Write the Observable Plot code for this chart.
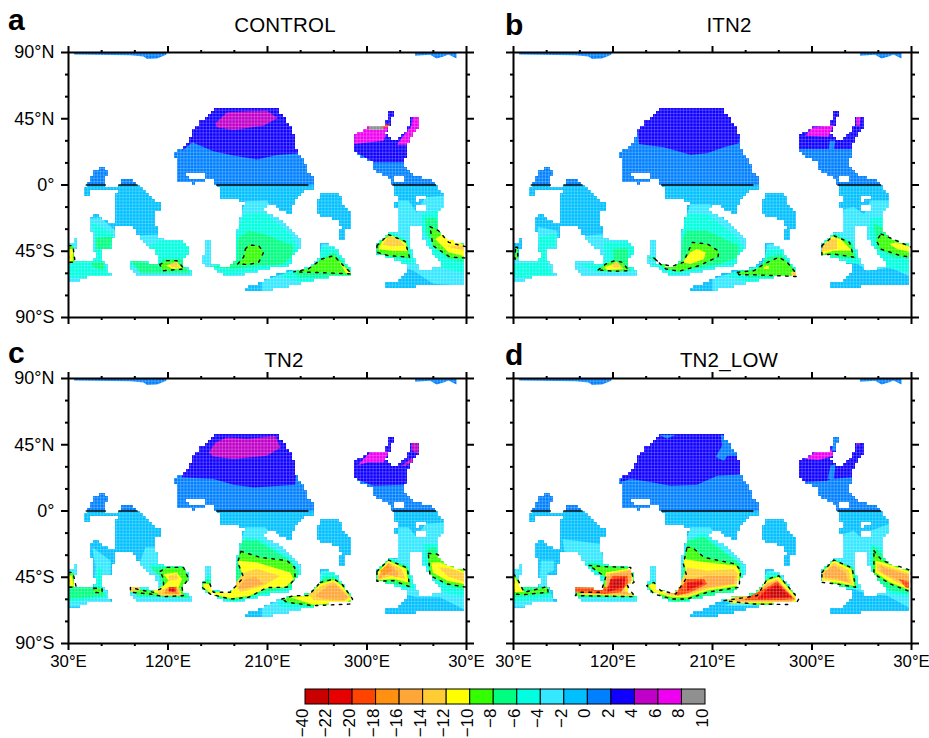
<!DOCTYPE html>
<html><head><meta charset="utf-8">
<script src="https://cdn.jsdelivr.net/npm/d3@7"></script>
<script src="https://cdn.jsdelivr.net/npm/@observablehq/plot@0.6"></script>
<style>
html,body{margin:0;padding:0;background:#fff}
#page{position:relative;width:929px;height:738px;overflow:hidden;font-family:"Liberation Sans",Arial,sans-serif;color:#000}
#page>svg,#page>div{position:absolute}
.title{font-size:20.5px;transform:translateX(-50%);white-space:nowrap;letter-spacing:.2px}
.tag{font-size:30px;font-weight:bold;line-height:30px}
</style></head><body><div id="page"></div>
<script>
// ---- colour classes ----
const thresholds=[-22,-20,-18,-16,-14,-12,-10,-8,-6,-4,-2,0,2,4,6,8];
const classColors=["#c80000","#e60000","#ff4400","#ff9010","#ffa638","#ffcc33","#ffff00","#33ff00","#00ff80","#00ffe0","#33e8ff","#00c0ff","#0080ff","#1000ff","#c000c8","#f000f0","#909090"];
const legendMid=[-23,-21,-19,-17,-15,-13,-11,-9,-7,-5,-3,-1,1,3,5,7,9];
const legendLabels=["−40","−22","−20","−18","−16","−14","−12","−10","−8","−6","−4","−2","0","2","4","6","8","10"];
// ---- axes ----
const lonMajor=[30,120,210,300,390];
const lonMinor=[60,90,150,180,240,270,330,360];
const latMajor=[90,45,0,-45,-90];
const latMinor=[75,60,30,15,-15,-30,-60,-75];
const latText={"90":"90°N","45":"45°N","0":"0°","-45":"45°S","-90":"90°S"};
// ---- ocean basins, flat lon,lat outlines (shared by all panels) ----
const basinPacific=[163,52.3,208,52,220,51.6,224.6,47,230.6,40,235,32.4,236,25.6,241,18.8,247,13,247,7.5,251,6.3,251,0,251.7,-3.8,241,-5.7,238,-9.5,233.6,-13.4,233,-19.7,227.6,-19.7,218.5,-15,209.5,-13.4,208,-18.6,218.5,-22,230.6,-28.8,240.5,-36.6,240.5,-43.5,233.6,-49,230,-54.8,206.5,-58,179.4,-62.7,172,-62,161,-57,151,-53.7,151,-49,154.7,-48,154.7,-37.8,160.7,-39,160,-47,158,-53.7,176.4,-56,181,-51.4,183,-40,183,-31,187,-19.7,190,-11.8,179.4,-10,169,-9.5,167,-2.7,164,0,161,4,155,4.5,154,2,143,.7,129,3,129,16.5,125,17.7,125,22,134,24.5,140,29,143,35.8,148,42.6,157,46];
const holePacific=[136,7.5,146,8.6,154,7.5,153,4.5,140,4];
const basinStrip=[190,-69.5,200.5,-67,209.5,-63.8,223,-59.3,233.6,-58.6,248.7,-56,259,-49,259,-41,266.7,-40.8,272.8,-43.5,281.8,-53.7,287,-59.3,286,-62,271,-62.7,257.7,-63.8,239.6,-67,227.6,-69.5,209.5,-72,191.4,-71.8];
const basinIsland=[259,-6,274,-5,277,-8.4,279,-14,287,-18.6,287,-28.8,279.7,-30,280,-37.4,273.4,-37.4,276.4,-28.8,274,-24,265,-22,255,-20.8,254.7,-11.8];
const basinAtlantic=[288,32.8,301.4,39.6,316.4,41,319.5,46,321,51,324,50.5,326.4,47.8,322.5,46,321.6,40.3,317.4,35.8,319.5,32.4,327,30,334.5,35.8,340.5,41.4,340.5,47,347.5,46,347.5,39.2,342,33.5,337.5,27.8,337.5,21,333,15.4,337.5,9.7,345,6.3,357,4,363,0,366,-3.8,369.7,-7.2,369.7,-15,364.6,-19.7,366,-31,373.6,-37.8,390,-41,390,-67,360,-67,334.5,-70.6,316.4,-69.5,316.4,-66,327,-65,337.5,-59.3,337.5,-56,324,-50,309,-48,309,-41,315,-35.5,319.5,-32.8,327,-32,327.6,-17.4,324,-15.6,327,-10.6,326.4,-3.8,323.4,0,321,5.2,306,9.7,304.4,15.4,292.3,20,288,25.6];
const holeAtl1=[345,-8.4,352.5,-7.2,353.5,-10.6,345,-11.3];
const holeAtl2=[345,-14.7,351.7,-14,353.5,-17.4,345.6,-17.4];
const holeAtl3=[339,-27,350.4,-27,351.7,-37.8,360,-46.9,369.7,-54.8,360,-57,347.5,-57,342,-46.9,338.4,-37.8];
const holeAtl4=[324,5,333.5,5.7,335,1.8,324,1];
const basinIndian=[46,0,50,4,54.4,9.7,60.4,13,64.3,12,64.3,9.7,68,9.7,67.3,6.3,63.4,5.2,64.3,0,65,-1,74,-2.7,75.5,0,80,4,86,4,93,0,101,-4.3,107,-10.6,114.6,-11.8,114.6,-16.3,110,-18.6,110,-27.6,112.5,-36.7,134,-37.8,140,-43.5,140,-48,133.6,-50.3,134,-54.8,143,-59.3,143,-61,90.5,-61,86,-57.7,86,-51,95,-51,110,-54.8,112.5,-53.7,108.6,-45.7,101,-41.2,93.5,-36.7,98,-33.3,93.5,-33.3,87.5,-27,81.5,-27,74,-29.2,71.5,-22,71.5,-8.4,74.6,-3.8,50,-3.4,49.3,-7.2,43,-7.2,43,-4.3,46,-.5];
const basinWest=[50,-22,54.4,-19.7,62,-23,71.5,-26.5,71.5,-33.3,69.5,-43.5,60.4,-43.5,60.4,-50.3,64.3,-53.7,68,-59.3,68,-62.7,47,-62.7,39.3,-66,30,-66,30,-41.2,35.4,-40,35.4,-35,39.3,-35,39.3,-40,35.4,-46.9,36.3,-52.5,53,-52.5,54.4,-48.7,53,-43.5,54,-37.8,50,-28.8];
const oceanRings=[basinPacific,holePacific,basinStrip,basinIsland,basinAtlantic,holeAtl1,holeAtl2,holeAtl3,holeAtl4,basinIndian,basinWest];
const arcticA=[35,90,35,88.6,86,88.2,98,87.3,101,85.6,110,86,118.5,88.5,118.5,90];
const arcticB=[343.5,90,343.5,87.8,357,88.4,363,86,370.6,87.6,373.6,88.6,381,86,381,90];
const equatorSegments=[[46,64.3],[75.5,93],[164,247.5],[323.4,363]];
// ---- shared latitude backdrop ----
const backdrop=[[-1,[30,-90,390,-90,390,0,30,0]],[1,[30,0,390,0,390,90,30,90]]];
// ---- contour bands by panel: [class value, flat lon,lat outline] ----
const bandsA=[
[3,[133,23.3,142,29,161,23,179,20,200.5,17.4,218.5,20.4,240,21.5,240,57,137,57]],
[3,[282,25.6,306,15.4,334.5,15.4,342,25.6,351,34.6,351,50.5,315,50.5,282,34.6]],
[5,[163,42,173.4,49.4,209.5,50.5,219,45.5,206.5,40.3,179.4,37.4,164,39.2]],
[7,[288.5,27.8,315,30,318,35.8,319.5,41,301.4,41,288.5,34.6]],
[7,[327,27.4,337.5,27.4,345,35.8,348.7,40.3,348.7,47,341.4,47,340.5,40.3,333,33.5]],
[9,[301.4,37.4,315,37.4,315,40,302,40]],
[-19,[313.5,41,320.5,41,320.5,39.2,313.5,39.2]],
[-3,[47,-23,59,-22,72.5,-31,72.5,-67,29,-67,29,-33]],
[-3,[89,-34.4,119,-33.3,149,-33.3,149,-62.7,83,-62.7,83,-49]],
[-3,[190,-11,209.5,-10.6,218.5,-20.8,230.6,-28.8,242.6,-35.5,242.6,-51.4,227.6,-58.2,173.4,-63.8,149,-56,149,-35.5,179.4,-33.3]],
[-3,[205,-74,205,-65,233.6,-58.2,257.7,-49,259,-40,270,-40,288,-56,288,-63.8,239.6,-69.5]],
[-3,[328.5,-10.6,337.5,-10.6,345,-18.6,352.6,-8.4,370.6,-7.2,370.6,-22,390,-37.8,390,-68.4,360,-67,342,-58.2,309,-49,309,-33.3,327,-32]],
[-5,[50.5,-25.4,71,-33.3,71,-44.6,62,-52.5,68,-62.7,30,-62.7,30,-51.4,53,-51.4,54.4,-33.3]],
[-5,[113,-37.8,139,-37.8,142,-49,134,-53.7,143,-59.3,110,-59.3,95,-58.2,86,-54.8,86,-51.4,110,-52.5,110,-47,102.6,-41.2]],
[-5,[188.4,-19.7,206.5,-18.6,230.6,-33.3,238,-42.3,233.6,-50.3,230,-54.8,173.4,-61.6,156.8,-54.8,176.4,-53.7,183,-31]],
[-5,[220,-61.6,233.6,-57.7,254.7,-53.7,259,-42.3,270,-42.3,288,-56,288,-63.8,239.6,-66]],
[-5,[309,-39,321,-31,337.5,-37.8,343.5,-53.7,321,-53.7,309,-49]],
[-5,[349.5,-19.7,369,-16.3,373.6,-33.3,390,-40,390,-60.4,366,-56,357,-43.5,349.5,-28.8]],
[-7,[54.4,-36,69.5,-35,68,-43.5,55.3,-43.5]],
[-7,[50.5,-52.5,62,-52.5,62.5,-58,53,-56]],
[-7,[86.6,-51,110,-54,116,-50.3,132.7,-50.3,135.7,-56,140,-60,95,-60]],
[-7,[193,-31,206.5,-33.3,233.6,-41.2,232,-48,224.6,-53.7,203.5,-54.8,179.4,-57,161,-55.5,182.4,-51.4,183,-36.7]],
[-7,[233.6,-59.3,248.7,-56,259,-50.3,270,-45.7,285,-58.2,286.3,-61.6,239.6,-62.7]],
[-7,[309,-40,319.5,-32.8,336,-38.3,339.6,-50.3,319.5,-48.7,309,-46.9]],
[-7,[352.6,-23,361.6,-22,367.6,-31,390,-41,390,-52.5,373.6,-50.3,363,-43.5,354,-33.3]],
[-9,[190,-43.5,193,-40.8,202,-41.2,206.5,-45.7,202,-52.5,193,-54,183,-53.7,188.4,-49]],
[-9,[259,-50.3,270,-48,277.3,-53.7,286.3,-60.4,257.7,-59.5,233.6,-59,247,-57]],
[-9,[309,-41.2,319.5,-33.7,334.5,-38.3,338.4,-49,319.5,-48,309,-45.7]],
[-9,[357,-28.3,364.6,-31,374,-39,390,-42,390,-49.6,375,-49,359.6,-41.2]],
[-9,[112.5,-54,119,-51.4,128,-51.4,135,-57,116,-58.2]],
[-9,[30,-41.2,34,-41.2,36,-52.5,30,-52.5]],
[-11,[310.4,-43.5,315,-36.7,322.5,-34.4,335.4,-39.6,336.6,-45,321,-44.6]],
[-11,[361.6,-36.7,369,-33.3,390,-41.7,390,-48.7,373.6,-45.7]],
[-11,[118,-54.8,128,-52.5,132.7,-56.6,125,-57]],
[-11,[274.3,-51.4,286.3,-60.4,281,-60]],
[-11,[30,-43.5,34,-43.5,34,-51.8,30,-52.5]],
[-13,[314.3,-40.5,319,-35,327,-36,334.5,-41.2,322.5,-41.7]],
[-13,[369.7,-41.2,390,-41.2,390,-45,378,-42.8]],
[-13,[120,-54,127.6,-52.5,130.6,-56,123.7,-55.5]]
];
const bandsB=[
[3,[143.5,27.8,166,25.6,190,20.6,205,21.5,220.4,25.6,234,28.3,238,57,139,57]],
[3,[285,24.4,337.8,24.4,350,39,350,50.5,285,50.5]],
[1,[316,30,321,30,319.7,23.3,315,23.3]],
[7,[294,33.5,300,39,319.7,41,315,32.8]],
[7,[340,47,344,47,343,40,340.5,40]],
[-3,[51.7,-28.3,69.8,-31,69.8,-67,27.6,-67,27.6,-49,53,-49]],
[-3,[94,-34.4,112,-33.3,142,-37.8,145,-62.7,85,-62.7,85,-50.3]],
[-3,[190,-13,208,-13,214,-19.7,232.4,-28.8,241.4,-36.7,241.4,-51.4,226.4,-58.2,173.7,-63.8,149.6,-56,149.6,-35.5,181,-33.3]],
[-3,[210,-74,210,-63.8,232.4,-58.6,256.5,-56,259.5,-40,271.6,-40,288,-56,288,-63.8,240,-69.5]],
[-3,[328.8,-16.3,337.8,-15,346.9,-19.7,353,-10.6,371,-10.6,371,-22,390,-37.8,390,-62.7,371,-56,350,-58.2,333,-49,309,-49,309,-33.3,325.8,-32]],
[-5,[53,-35.5,68,-33.3,68,-41.2,59,-43.5,60.7,-53.7,66.7,-62.7,30,-62.7,30,-53.7,53,-52.5]],
[-5,[112,-39,139,-37.8,140.5,-58.2,106,-59.3,88,-53.7,100,-53.7,113.4,-51.4]],
[-5,[185.7,-19.7,205,-19.7,232.4,-35.5,238.4,-42.3,234,-53.7,172,-61.6,154,-53.7,181,-51.4,182.7,-28.8]],
[-5,[222,-61.6,234,-57.7,255,-54.8,259.5,-43.5,271.6,-43.5,288,-58.2,288,-63.8,241.4,-66]],
[-5,[309,-39,319.7,-32.6,336.3,-37.8,344,-53.7,319.7,-52.5,309,-49]],
[-5,[353,-22,368,-22,372.5,-32,390,-39,390,-60.4,368,-56,356,-44.6,351.4,-31]],
[-7,[119.5,-43.5,133,-42.8,134.5,-53.7,135.4,-58.6,106,-58.6,113.4,-53.7,121,-50.3]],
[-7,[187,-31,205,-31,234,-41.2,232.4,-49,217,-53.7,178,-59.3,151,-49,181,-49,183.6,-35.5]],
[-7,[232.4,-58.6,250.5,-57,259.5,-49,271.6,-46.9,286.6,-59.3,286.6,-62.7,241.4,-62.7]],
[-7,[309,-40,321,-33.3,336.3,-40,340,-50.3,309,-48]],
[-7,[356,-26.5,363.4,-28.8,390,-41.2,390,-50.3,374,-49,359,-43.5]],
[-9,[106.5,-57.7,113.4,-53.7,121.6,-51.4,128.5,-52.5,134.5,-58.2,121,-58.6]],
[-9,[157,-49.6,167.6,-57,179.7,-58.6,197.8,-54.8,215,-48.7,215.8,-45,205.3,-40,191.7,-39,187.8,-45.7,183.6,-52.5,173.7,-55.2,163,-53.7]],
[-9,[232.4,-59.3,247.5,-58.2,256.5,-53.7,270,-49,277.6,-52.5,286,-60.4,286.6,-62.2,268.5,-61.6,247.5,-61,234,-61]],
[-9,[309,-41.2,319.7,-34.4,334,-39,337.8,-49,319.7,-46.9,309,-47.5]],
[-9,[362.5,-33.3,371,-36,390,-42.3,390,-49,380,-48,362,-43.5,358.3,-37.8]],
[-9,[32,-42.3,33.6,-42.3,34,-50.3,31,-50.3]],
[-11,[112,-56,121.6,-53.2,130,-57,115,-57.7]],
[-11,[182.7,-52.5,190,-45.7,196,-43.5,203.8,-45.7,202.3,-50.3,190,-53.7]],
[-11,[309,-41.2,318,-35,325.8,-36.7,336.3,-44.6,319.7,-44.6,309,-47]],
[-11,[370,-40,375.5,-39,390,-42.3,390,-45.7,377,-43.5]],
[-13,[280.6,-59.3,286.6,-58.6,286.6,-61.6,282,-62.2]],
[-11,[256.5,-55.5,261,-54.8,261,-57,256.5,-57]],
[-13,[118,-54.8,123.4,-52,128.5,-56,121,-56]],
[-13,[309,-42.3,315,-37.4,322.6,-36,322.6,-43.5,309,-45]]
];
const bandsC=[
[3,[132.7,22.9,161,21.7,179.4,17.9,197.5,16,235,17.9,240,60,137,60]],
[5,[157,39.8,163,46.6,173.4,50,191.4,49,217,51,221.6,43,209.5,37.6,179.4,35.3,161,37]],
[3,[282,24,306,17.2,334.5,17.9,342,25,351,34,351,52,315,52,282,34]],
[7,[291.6,31,303.6,40.5,320,40.5,315,33,300,33]],
[5,[331.5,30.8,340.5,36,342,33.7,334.5,30.8]],
[5,[340.5,47,346.6,47,346.6,39,340.5,41]],
[-3,[51.4,-24.7,68,-33.7,68,-44,60.4,-46.2,65,-54,69.5,-65,30,-65,30,-49.6,53,-51.8,54.4,-38]],
[-3,[30,-35,40.8,-35,40.8,-51.8,30,-51.8]],
[-3,[93.5,-37,99.6,-24.7,110,-24.7,111.6,-36,143,-36,144.8,-64.3,86,-64.3,84.5,-50.7]],
[-3,[190,-11,208,-11,218.5,-20,233.6,-29,241,-38,241,-52,230.6,-61,173.4,-64.3,149,-58.6,149,-36,179.4,-33.7]],
[-3,[205,-74.5,205,-65.4,223,-59.8,254.7,-47.3,259,-40.5,270,-40.5,288,-56.4,288,-65.4,239.6,-70]],
[-3,[328.5,-11,337.5,-11,345,-18,352.6,-8.8,370.6,-7.7,370.6,-22.4,390,-38,390,-67.7,366,-58.6,345,-58.6,333,-56.4,309,-49.6,309,-33.7,327,-32.6]],
[-5,[30,-53,53,-53,56,-38.3,60.4,-38.3,60.4,-51.8,65,-58.6,30,-62]],
[-5,[102.6,-36,137,-37,142,-49.6,138,-58.6,92,-58.6,88,-50.7,102.6,-53,113,-51.8,113,-45]],
[-5,[190,-17.9,203.5,-19,233.6,-33.7,241,-42.8,233.6,-54,179.4,-62,155,-57.5,152,-47.3,160,-40.5,161,-54,179.4,-54,183,-33.7]],
[-5,[221.5,-59.8,258,-46.2,260.7,-41.7,271,-41.7,288,-58.6,288,-64.3,233.6,-66.6,220,-64.3]],
[-5,[309,-39.4,321,-31.5,337.5,-37,343.5,-53,321,-53,309,-49.6]],
[-5,[351,-22.4,366,-22.4,373.6,-33.7,390,-40.5,390,-58.6,369,-55.2,357,-44,351,-33.7]],
[-7,[31,-51.8,59,-51.8,63.4,-57.5,31,-59.8]],
[-7,[104,-38.3,134,-37.8,139.6,-47.3,135.7,-56.4,140,-59.3,92,-57.5,86,-53,107,-54,114.6,-51.8,113,-45]],
[-7,[187,-20,200.5,-20,230.6,-33.7,238,-41.7,233.6,-51.8,209.5,-55,179.4,-61,161,-57.5,155,-54,150.8,-49.6,155,-46.2,160,-47.3,161,-55,179.4,-54,183,-31.5]],
[-7,[223,-59.8,254.7,-50.7,262,-45,271,-45,287,-58.6,287,-63,251.6,-65.4,233.6,-63]],
[-7,[309,-40.5,319.5,-32.6,336.6,-37.8,339.6,-51.8,324,-49.6,309,-48.5]],
[-7,[354,-25.8,361.6,-24.7,369,-32.6,390,-40,390,-54,372.6,-50.7,357,-42.8]],
[-9,[113,-41,119,-38.3,134,-38.3,138.7,-46.2,132.7,-51.8,134,-57.5,116,-58.2,104,-56.4,86,-55.2,86,-51.8,95,-53.7,107,-55.2,116,-51.8,116,-46.2]],
[-9,[186,-27.4,203.5,-31.5,227.6,-33.7,234.6,-38.3,235,-46.2,227.6,-51.8,209.5,-52,193,-58.6,176.4,-59.8,158,-56.4,150.8,-51.8,151.7,-48.5,157.3,-48.5,161,-55.2,176.4,-55.2,188.4,-45,183,-34.9]],
[-9,[223,-59.8,233.6,-57.5,247,-57.5,257.7,-48.5,270,-46.2,277.3,-49.6,287,-59.8,285,-63.2,251.6,-64.3,227.6,-62]],
[-9,[309,-41,319.5,-33.3,336.6,-38.7,338.4,-51.4,324,-47.3,309,-47.8]],
[-9,[355.5,-28.8,363,-29.2,390,-40.5,390,-51.8,372.6,-49.6,357,-44]],
[-9,[30,-41.7,34,-41.7,37,-51.8,30,-51.8]],
[-9,[53,-52.3,60.4,-53,60.4,-55.7,53,-55.2]],
[-11,[116,-42.8,128,-41.7,132.7,-46.2,129.7,-51.8,131,-56.4,116,-56.4,104,-55.2,116,-50.7,120.7,-47.3]],
[-13,[86,-50.7,93.5,-50.7,95,-53.7,86,-55.2]],
[-11,[183,-33.7,200.5,-34.9,230.6,-41.7,233.6,-46.2,226,-51.8,209.5,-52.3,193,-57.7,176.4,-59.3,160,-56.8,152,-51.8,152,-49.6,156.8,-49.6,161,-55.2,176.4,-55.2,188.4,-45,185.4,-39.4]],
[-11,[230.6,-58.6,247,-57.5,257.7,-49.6,270,-46.9,277.3,-50.7,286.3,-59.8,281.8,-62,251.6,-63.6]],
[-11,[309.6,-41.7,319.5,-34,335.4,-39.4,337.5,-48.5,324,-46.2,309.6,-46.9]],
[-11,[358,-34.9,366,-34.9,390,-41.7,390,-50,372.6,-47.3,359.6,-41.7]],
[-11,[30,-44,33,-44,35,-51,30,-51]],
[-13,[120.7,-44,128,-42.8,129.7,-46.2,120.7,-47.3]],
[-13,[110,-54.6,120.7,-51.8,129.7,-51.8,132.7,-57.5,113,-57.5]],
[-13,[181,-49,188.4,-41.7,200.5,-39.4,221.5,-44,206.5,-50.7,185.4,-55.2]],
[-13,[247,-56.4,259,-50.7,270,-47.8,285,-58.6,279,-61.4,251.6,-60.4]],
[-13,[310.4,-44,319.5,-34.9,331.5,-39.4,334.5,-46.2,322.5,-44,310.4,-46.9]],
[-13,[364.6,-38.3,373.6,-38.7,390,-42.8,390,-48.5,373.6,-44.6]],
[-15,[182.4,-53,190,-46.2,199,-44.6,206.5,-49.6,188.4,-53]],
[-15,[253,-57.5,265,-50.7,271,-49.6,283,-58.6,279,-60.4,260.7,-59.8]],
[-15,[310.4,-44,319.5,-35.3,328.5,-41.7,327,-45,316.7,-42.8,310.4,-46.9]],
[-17,[311.8,-40.5,319.5,-36,322.5,-40.5,315,-44]],
[-17,[119,-52.3,128,-51.4,129.7,-56.4,116.3,-56]],
[-21,[120.7,-51.8,126.8,-51.8,126.8,-55.2,120.7,-54.6]]
];
const bandsD=[
[3,[126.4,19.5,136,21.7,151,20,172,17.2,196,17.9,214.3,24,237,25,237,54.6,142,54.6]],
[1,[212.8,36.6,218.8,44.4,217.3,51.8,226.4,50,234,37.6,223.4,37.6,220.4,34.2]],
[1,[161.6,51.8,176.7,51.8,169,49]],
[3,[285,25,292.6,19.5,313.7,20.6,316.7,21.7,336.3,22.9,350,38.7,350,52.3,285,52.3]],
[1,[319,51,327,51,325.8,41,318,41]],
[1,[316.7,30.8,321.3,32,319.7,21.7,314.3,21.7]],
[7,[294,35.3,301.7,39.8,318,41.4,319.7,37.6,306,34.6]],
[5,[340,47.8,343.6,47.8,343,45,340,45]],
[-3,[54.7,-33.7,66.7,-33.7,66.7,-40.5,60.7,-41.7,62,-51.8,68,-65.4,27.6,-65.4,27.6,-36,39.6,-36,39.6,-51.8,53,-51.8]],
[-3,[74.3,-19,109,-22.4,112,-36,142,-38.3,143.5,-62,87.8,-62,86,-51.8,109,-51.8,92.3,-36,75.8,-27]],
[-3,[190,-11,208,-11,217.3,-20,232.4,-28,241.4,-38,241.4,-51.8,226.4,-61,172,-63,149.6,-57.5,149.6,-36,181,-31.5]],
[-3,[220.4,-64.3,250.5,-56.4,256.5,-47.3,259.5,-40.5,270,-40.5,288,-57.5,288,-65.4]],
[-3,[328.8,-15.6,337.8,-13.4,343.9,-17.9,353,-13.4,369.5,-8.8,369.5,-22.4,390,-38.3,390,-66.6,368,-57.5,350,-56.4,333,-51.8,309,-49.6,309,-31.5,325.8,-29.2]],
[-5,[30,-51.8,60.7,-51.8,65.2,-58.6,30,-62]],
[-5,[93.9,-34.9,109,-33.7,139,-38.3,142,-59.8,86,-58.6,87.8,-51.8,112,-51.8]],
[-5,[187,-20,202.3,-14.5,208,-19,236.6,-36,238,-42.8,234,-56.4,178,-63,154,-56.4,151,-48.5,160,-46.2,163,-54,181,-51.8]],
[-5,[220.4,-62,250.5,-55.2,258,-42.8,268.5,-41.7,288,-58.6,288,-64.3]],
[-5,[309,-39.4,319.7,-32.6,337.8,-38.3,342.3,-53,319.7,-53,309,-49.6]],
[-5,[353,-22.4,362,-24.7,371,-33.7,390,-39.4,390,-58.6,371,-56.4,353,-44]],
[-7,[30,-51.8,60.7,-51.4,63,-56.4,30,-58.6]],
[-7,[96.9,-34.9,112,-37,137.6,-38.3,140.5,-58.6,86,-58.6,86,-55,109,-55.2,113.4,-45]],
[-7,[187,-20,202.3,-17.9,235,-36,236,-45,232.4,-54,202,-58.6,178,-62,157,-57.5,151.7,-51.8,181,-51.8]],
[-7,[220.4,-59.8,250.5,-54,258,-46.2,270,-44,288,-58.6,286.6,-64.3,250.5,-64.3]],
[-7,[309,-39.4,319.7,-33.3,337.8,-38.7,341,-51.8,322.6,-51.8,309,-48.5]],
[-7,[354.4,-23.5,360.4,-27,369.5,-34.9,390,-40.5,390,-56.4,371,-54,354.4,-44]],
[-9,[30,-42.8,33.6,-46.2,39.6,-55.2,60.7,-51.4,61.3,-55.2,39.6,-56.8,30,-56.4]],
[-9,[98.4,-37,113.4,-37.8,136,-38.3,139,-48.5,133,-50.7,139.6,-58.2,86,-57.5,87.8,-55.2,109,-55.2,113.4,-45]],
[-9,[187,-24.7,191.7,-24.7,202.3,-31.5,231,-36,235.4,-40.5,234,-51.8,205.3,-55.2,187,-59.8,173.7,-59.8,157,-56.4,150.5,-50.7,157,-48.5,163,-54,176.7,-56.4,187,-45,183.6,-36]],
[-9,[220.4,-60.9,250.5,-57.5,259.5,-46.2,270,-44,288,-59.8,285,-63.6,247.5,-63.2]],
[-9,[309,-41.7,319.7,-33.3,336.3,-38.7,339.4,-51.8,322.6,-49.6,309,-48.5]],
[-9,[356,-27,363.4,-33.7,390,-40.5,390,-55.2,371,-49.6,356,-42.8]],
[-11,[113.4,-41.7,137.6,-38.7,138.4,-47.8,132.4,-51.8,139,-57.5,87,-56.8,109,-55.2,113.4,-51.8]],
[-11,[183.6,-32.6,205.3,-34.9,231,-37,234.9,-41.7,233,-50.7,205.3,-54,187,-58.6,173.7,-58.6,157,-55.2,152,-50.7,157,-48.5,163,-54,176.7,-55.2,187,-45]],
[-11,[221.9,-58.6,247.5,-57.5,259.5,-47.3,270,-44.6,287,-59.8,283.6,-62.7,226.4,-62.7]],
[-11,[309,-41.7,319.7,-33.7,335.4,-39.4,338.4,-50.7,322.6,-48.5,309,-47.3]],
[-11,[357.5,-33.7,364.3,-34.9,390,-41.7,390,-54,371,-48.5,357.5,-41.7]],
[-11,[30,-44,35.9,-50.7,39.6,-55,30,-55]],
[-13,[113.4,-42.8,137.6,-39.4,137.6,-47.3,130,-53,138.4,-57.5,86,-56.4,113.4,-54]],
[-13,[187,-38.3,205.3,-40.5,229.4,-39.4,233,-42.8,232,-49.6,205.3,-53,187,-57.5,173.7,-57.5,166,-56.4,178,-54]],
[-13,[221.9,-59.8,247.5,-57.5,259.5,-48.5,268.5,-46.2,285.5,-59.8,282,-62,231.7,-62]],
[-13,[309.7,-41.7,319.7,-35.3,333,-40,336.3,-49.6,324.3,-47.3,309.7,-46.2]],
[-13,[358.5,-36,365,-37,390,-42.8,390,-53,374,-47.3,359,-40.5]],
[-15,[113.4,-46.2,118,-42.8,136,-40.5,136,-47.3,128.5,-54,136,-56.8,109,-55.2,86,-55.2,86,-51.8,100,-51.8,113.4,-52.3]],
[-15,[178,-54,190,-46.2,205.3,-44,231,-44,229.4,-49.6,205.3,-51.8,187,-56.4,169,-56.4]],
[-15,[229.4,-58.6,247.5,-57.5,259.5,-49.6,268.5,-47.3,285,-59.8,280.6,-61.4,232.4,-61.4]],
[-15,[310.7,-41.7,319.7,-37,330.3,-41.7,333,-48.5,322.6,-46.2,310.7,-45]],
[-15,[362.5,-36,365,-38.3,390,-44,390,-51.8,375.5,-46.2,362.5,-41.7]],
[-19,[115,-51.8,119.5,-44,133,-44,133.6,-48.5,127,-55.2,113.4,-56.4,86,-55.2,86,-51.8,100,-52.3]],
[-19,[176.7,-56.4,187,-46.2,202.3,-46.2,205.3,-49.6,190,-55.2,178,-57.5]],
[-19,[244.5,-57.5,259.5,-51.8,268.5,-47.8,284,-59.8,274.6,-60.4,238.4,-60.4]],
[-19,[378.5,-46.2,390,-48.5,390,-53,384.5,-51.8]],
[-21,[117.6,-46.2,131.3,-45,130,-51.8,115,-55.2]],
[-21,[187,-48.5,200.5,-47.3,202,-49.6,187,-54]],
[-21,[259.5,-53,268.5,-49.6,282,-58.6,250.5,-59.8]],
[-23,[262,-54,268.5,-50.7,279,-58.6,262,-58.6]],
[-23,[119.5,-47.3,128.5,-46.2,127,-50.7,119.5,-53]]
];
// ---- panel text and placement ----
const panels=[
 {tag:"a",title:"CONTROL",bands:bandsA,left:0,top:0,showY:true,showX:false,tagX:8,tagBase:30,titleX:285},
 {tag:"b",title:"ITN2",bands:bandsB,left:445,top:0,showY:false,showX:false,tagX:505,tagBase:35,titleX:729},
 {tag:"c",title:"TN2",bands:bandsC,left:0,top:326,showY:true,showX:true,tagX:8,tagBase:363,titleX:284},
 {tag:"d",title:"TN2_LOW",bands:bandsD,left:445,top:326,showY:false,showX:true,tagX:505,tagBase:365,titleX:729}
];
// ---- helpers ----
const pairs=f=>d3.range(0,f.length,2).map(i=>[f[i],f[i+1]]);
function longForm(list,closed){
  const out=[];
  list.forEach(([v,flat],k)=>{
    const p=pairs(flat); if(closed)p.push(p[0]);
    p.forEach(([lon,lat])=>out.push({id:k,v,lon,lat}));
  });
  return out;
}
// land mask on a coarse grid, merged into row runs
const cellLon=2.8125,cellLat=2;
const ringPts=oceanRings.map(pairs);
const isOcean=(lon,lat)=>ringPts.reduce((n,r)=>n+(d3.polygonContains(r,[lon,lat])?1:0),0)%2===1;
const nearOcean=(lon,lat)=>isOcean(lon,lat)||isOcean(lon-1.6,lat)||isOcean(lon+1.6,lat)||isOcean(lon,lat-1.2)||isOcean(lon,lat+1.2);
const landRuns=[];
for(let la=90;la>-90;la-=cellLat){
  let start=null;
  for(let k=0;k<=128;k++){
    const lo=30+k*cellLon;
    const land=k===128||!isOcean(lo+cellLon/2,la-cellLat/2);
    if(land&&start===null)start=lo;
    if(!land&&start!==null){landRuns.push({x1:start,x2:lo,y1:la-cellLat,y2:la});start=null;}
  }
  if(start!==null)landRuns.push({x1:start,x2:390,y1:la-cellLat,y2:la});
}
const edgeLand=[{x1:30,x2:31,y1:-90,y2:90},{x1:388,x2:390,y1:-90,y2:90}];
const meshLon=d3.range(30,390,2.9), meshLat=d3.range(-90,90,2.2);
const arctic=longForm([[1,arcticA],[1,arcticB]],false);
const base=longForm(backdrop,false);
// the dashed contour is only drawn where it lies on ocean
function dashedPath(list){
  const out=[];
  list.forEach(([v,flat],k)=>{
    const p=pairs(flat);p.push(p[0]);
    for(let i=0;i<p.length-1;i++){
      const [a,b]=p[i],[c,d]=p[i+1],n=Math.max(1,Math.ceil(Math.hypot(c-a,d-b)));
      for(let j=0;j<=n;j++){
        const lon=a+(c-a)*j/n,lat=b+(d-b)*j/n;
        out.push({id:k,lon,lat:nearOcean(lon,lat)?lat:NaN});
      }
    }
  });
  return out;
}
const font='"Liberation Sans",Arial,sans-serif';
const colorScale={type:"threshold",domain:thresholds,range:classColors};
const page=document.getElementById("page");
function place(el,l,t){el.style.position="absolute";el.style.left=l+"px";el.style.top=t+"px";page.appendChild(el);}
for(const P of panels){
  const fills=longForm(P.bands,false);
  const dashed=dashedPath(P.bands.filter(b=>b[0]===-9));
  const blank=()=>"";
  const svg=Plot.plot({
    width:480,height:P.showX?357:340,marginLeft:68,marginRight:14,marginTop:52,marginBottom:P.showX?40:23,
    style:{fontFamily:font,background:"transparent",overflow:"visible"},
    x:{domain:[30,390],axis:null},y:{domain:[-90,90],axis:null},color:colorScale,
    marks:[
      Plot.line(base,{x:"lon",y:"lat",z:"id",fill:"v",stroke:"none"}),
      Plot.line(fills,{x:"lon",y:"lat",z:"id",fill:"v",stroke:"none",clip:"frame"}),
      Plot.rect(landRuns,{x1:"x1",x2:"x2",y1:"y1",y2:"y2",fill:"white",shapeRendering:"crispEdges"}),
      Plot.rect(edgeLand,{x1:"x1",x2:"x2",y1:"y1",y2:"y2",fill:"white",shapeRendering:"crispEdges"}),
      Plot.line(arctic,{x:"lon",y:"lat",z:"id",fill:"v",stroke:"none"}),
      Plot.ruleX(meshLon,{stroke:"white",strokeOpacity:.22,strokeWidth:1}),
      Plot.ruleY(meshLat,{stroke:"white",strokeOpacity:.22,strokeWidth:1}),
      Plot.line(dashed,{x:"lon",y:"lat",z:"id",stroke:"black",strokeWidth:1.4,strokeDasharray:"2.5,5.5",clip:"frame"}),
      Plot.ruleY(equatorSegments,{y:()=>0,x1:d=>d[0],x2:d=>d[1],stroke:"black",strokeWidth:1.4}),
      Plot.frame({stroke:"black",strokeWidth:2}),
      Plot.axisX(lonMajor,{anchor:"top",tickSize:7,strokeWidth:2,tickFormat:blank,label:null}),
      Plot.axisX(lonMinor,{anchor:"top",tickSize:3,strokeWidth:2,tickFormat:blank,label:null}),
      Plot.axisX(lonMinor,{anchor:"bottom",tickSize:3,strokeWidth:2,tickFormat:blank,label:null}),
      Plot.axisX(lonMajor,{anchor:"bottom",tickSize:7,strokeWidth:2,label:null,tickPadding:5,fontSize:16.8,
        tickFormat:P.showX?(d=>(d%360)+"°E"):blank}),
      Plot.axisY(latMinor,{anchor:"left",tickSize:3,strokeWidth:2,tickFormat:blank,label:null}),
      Plot.axisY(latMinor,{anchor:"right",tickSize:3,strokeWidth:2,tickFormat:blank,label:null}),
      Plot.axisY(latMajor,{anchor:"right",tickSize:7,strokeWidth:2,tickFormat:blank,label:null}),
      Plot.axisY(latMajor,{anchor:"left",tickSize:7,strokeWidth:2,label:null,tickPadding:7,fontSize:18,
        tickFormat:P.showY?(d=>latText[d]):blank})
    ]
  });
  place(svg,P.left,P.top);
  const t=document.createElement("div");t.className="title";t.textContent=P.title;place(t,P.titleX,P.top===0?13:348);
  const g=document.createElement("div");g.className="tag";g.textContent=P.tag;place(g,P.tagX,P.tagBase-25);
}
// ---- colour bar ----
const legend=Plot.plot({
  width:450,height:68,margin:0,
  style:{fontFamily:font,background:"transparent",overflow:"visible"},
  x:{domain:[0,17],range:[25,425],axis:null},y:{domain:[0,1],range:[34,19],axis:null},color:colorScale,
  marks:[
    Plot.rect(legendMid,{x1:(d,i)=>i,x2:(d,i)=>i+1,y1:()=>0,y2:()=>1,fill:d=>d,stroke:"black",strokeWidth:1}),
    Plot.text(legendLabels,{x:(d,i)=>i,y:()=>0,text:d=>d,rotate:-90,textAnchor:"end",dy:4,dx:-3,fontSize:17})
  ]
});
place(legend,280,670);
</script></body></html>
